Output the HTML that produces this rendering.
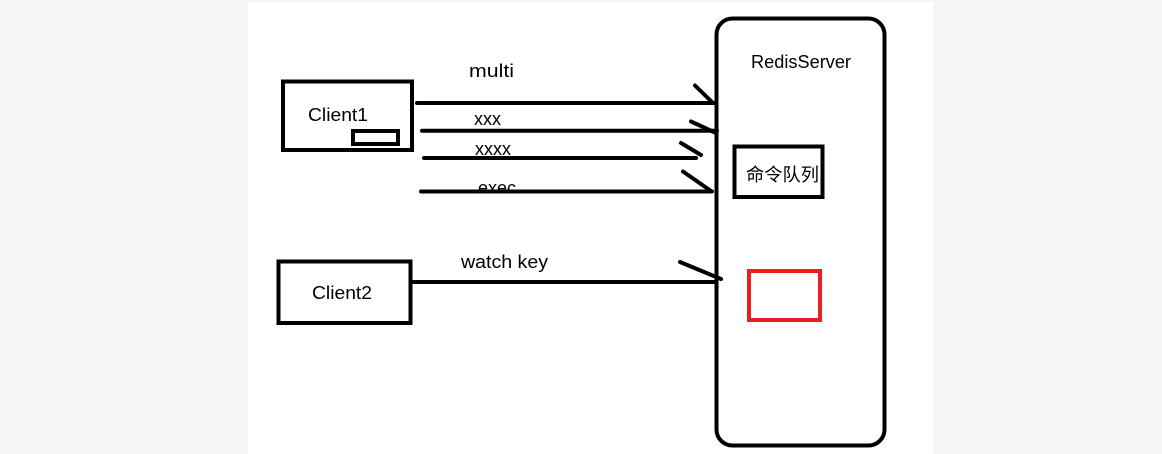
<!DOCTYPE html>
<html>
<head>
<meta charset="utf-8">
<style>
html,body{margin:0;padding:0;width:1162px;height:454px;overflow:hidden;background:#f5f5f5}
svg{display:block}
text{font-family:"Liberation Sans","Noto Sans CJK SC",sans-serif;font-size:18px;fill:#000}
</style>
</head>
<body>
<svg width="1162" height="454" viewBox="0 0 1162 454" xmlns="http://www.w3.org/2000/svg">
<defs><clipPath id="c"><rect x="470" y="170" width="60" height="20"/></clipPath></defs>
<rect x="248" y="2" width="685" height="452" fill="#fff"/>
<g fill="none" stroke="#000" stroke-width="4">
<rect x="716.5" y="18.5" width="168" height="427" rx="16" stroke-width="4"/>
<rect x="283" y="81.5" width="129" height="68.5"/>
<rect x="353" y="131" width="45" height="13"/>
<rect x="278.5" y="261.5" width="132" height="61.5"/>
<rect x="734.5" y="146.5" width="88" height="50.5"/>
</g>
<rect x="749" y="271" width="71" height="49" fill="none" stroke="#ed1c24" stroke-width="4"/>
<g stroke="#000" stroke-width="4" stroke-linecap="round" fill="none">
<line x1="417" y1="103" x2="714" y2="103"/>
<line x1="422" y1="130.7" x2="717" y2="130.7"/>
<line x1="424" y1="158" x2="696" y2="158"/>
<line x1="421" y1="191.5" x2="712" y2="191.5"/>
<line x1="412" y1="282" x2="716" y2="282"/>
<line x1="695" y1="85.5" x2="713" y2="103"/>
<line x1="691" y1="121.5" x2="716" y2="133"/>
<line x1="681" y1="143" x2="701" y2="155"/>
<line x1="683" y1="171.5" x2="711" y2="191"/>
<line x1="680" y1="262" x2="721" y2="279"/>
</g>
<text x="469" y="77" textLength="45" lengthAdjust="spacingAndGlyphs">multi</text>
<text x="474" y="125" textLength="27" lengthAdjust="spacingAndGlyphs">xxx</text>
<text x="475" y="155" textLength="36" lengthAdjust="spacingAndGlyphs">xxxx</text>
<text x="478" y="194" textLength="38" lengthAdjust="spacingAndGlyphs" clip-path="url(#c)">exec</text>
<text x="308" y="121" textLength="60" lengthAdjust="spacingAndGlyphs">Client1</text>
<text x="312" y="299" textLength="60" lengthAdjust="spacingAndGlyphs">Client2</text>
<text x="461" y="268" textLength="87" lengthAdjust="spacingAndGlyphs">watch key</text>
<text x="751" y="68" textLength="100" lengthAdjust="spacingAndGlyphs">RedisServer</text>
<text x="746" y="181" textLength="73" lengthAdjust="spacingAndGlyphs">命令队列</text>
</svg>
</body>
</html>
